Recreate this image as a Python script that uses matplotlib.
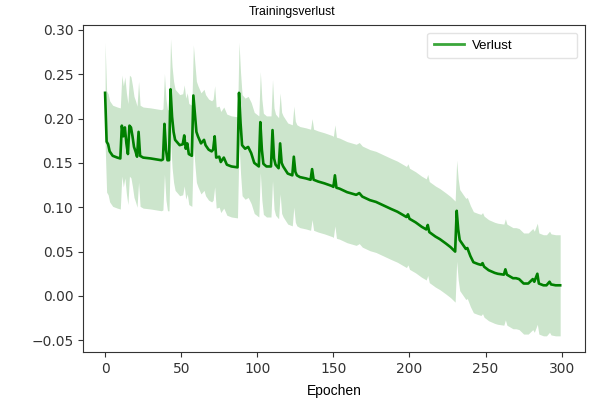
import matplotlib
matplotlib.use("Agg")
import numpy as np
import matplotlib.pyplot as plt
from matplotlib.lines import Line2D

# Values (mean training loss per epoch)
epochs = [
    0, 1, 2, 3, 5, 8, 10, 11, 12, 13, 14, 15, 16, 17, 18, 19, 20, 21, 22, 23,
    25, 30, 37, 38, 39, 40, 41, 42, 43, 44, 45, 46, 47, 49, 51, 52, 53, 54, 55, 57,
    58, 59, 60, 61, 63, 65, 66, 68, 70, 71, 72, 73, 75, 76, 78, 80, 83, 87, 88, 89,
    90, 92, 94, 96, 98, 101, 102, 103, 104, 106, 109, 110, 111, 112, 114, 115, 116, 117, 120, 123,
    124, 125, 126, 128, 132, 135, 136, 137, 140, 144, 149, 150, 151, 152, 154, 159, 165, 167, 169, 174,
    178, 183, 188, 192, 196, 198, 199, 200, 204, 208, 211, 212, 213, 217, 220, 224, 227, 230, 231, 232,
    233, 235, 237, 238, 240, 242, 245, 247, 248, 249, 252, 256, 258, 262, 263, 264, 266, 268, 270, 272,
    275, 278, 281, 282, 284, 285, 288, 290, 292, 293, 296, 299,
]
loss_mean = [
    0.229, 0.174, 0.171, 0.163, 0.158, 0.156, 0.155, 0.192, 0.180, 0.190, 0.172, 0.160, 0.192, 0.190, 0.180, 0.168, 0.163, 0.157, 0.185, 0.158,
    0.156, 0.155, 0.153, 0.154, 0.194, 0.165, 0.153, 0.153, 0.233, 0.202, 0.185, 0.176, 0.174, 0.170, 0.171, 0.181, 0.166, 0.172, 0.160, 0.158,
    0.226, 0.205, 0.185, 0.180, 0.172, 0.176, 0.170, 0.165, 0.163, 0.165, 0.180, 0.156, 0.157, 0.151, 0.156, 0.148, 0.146, 0.145, 0.229, 0.195,
    0.170, 0.166, 0.168, 0.161, 0.150, 0.146, 0.196, 0.165, 0.149, 0.146, 0.146, 0.187, 0.155, 0.148, 0.144, 0.172, 0.150, 0.146, 0.138, 0.136,
    0.157, 0.140, 0.136, 0.134, 0.1325, 0.131, 0.143, 0.131, 0.129, 0.127, 0.124, 0.123, 0.136, 0.122, 0.121, 0.117, 0.114, 0.116, 0.112, 0.108,
    0.106, 0.102, 0.098, 0.095, 0.091, 0.089, 0.092, 0.087, 0.083, 0.078, 0.075, 0.080, 0.072, 0.067, 0.064, 0.059, 0.055, 0.050, 0.096, 0.075,
    0.063, 0.058, 0.053, 0.054, 0.045, 0.038, 0.036, 0.035, 0.037, 0.033, 0.029, 0.026, 0.025, 0.024, 0.030, 0.024, 0.022, 0.020, 0.020, 0.019,
    0.014, 0.014, 0.019, 0.016, 0.025, 0.014, 0.012, 0.012, 0.016, 0.013, 0.012, 0.012,
]
loss_std = 0.057  # band half-width, read from the shaded area

title = "Trainingsverlust"
x_label = "Epochen"
legend_label = "Verlust"
y_ticks = [-0.05, 0.00, 0.05, 0.10, 0.15, 0.20, 0.25, 0.30]
x_ticks = [0, 50, 100, 150, 200, 250, 300]


def main():
    x = np.array(epochs)
    y = np.array(loss_mean)

    fig = plt.figure(figsize=(5.93, 4.03), dpi=100)
    ax = fig.add_axes([0.140, 0.127, 0.847, 0.811])

    ax.fill_between(x, y - loss_std, y + loss_std, color="green", alpha=0.2, linewidth=0)
    ax.plot(x, y, color="green", linewidth=1.9)

    ax.set_ylim(-0.063, 0.3055)
    ax.set_xlim(-14.5, 315.5)
    ax.set_yticks(y_ticks)
    ax.set_xticks(x_ticks)
    ax.tick_params(labelsize=10, colors="#333333")
    ax.set_yticklabels([f"{t:.2f}".replace("-", "\u2212") for t in y_ticks])
    for spine in ax.spines.values():
        spine.set_color("#333333")

    # title sits centred on the figure, not on the axes
    fig.text(0.493, 0.970, title, fontsize=8.8, family="Liberation Sans",
             ha="center", va="center")
    ax.set_xlabel(x_label, fontsize=10, family="Liberation Sans", labelpad=6)

    handle = Line2D([0], [0], color="#3aa63a", linewidth=2)
    ax.legend([handle], [legend_label], loc="upper left",
              bbox_to_anchor=(0.685, 0.899, 0.299, 0.077), mode="expand",
              prop={"family": "Liberation Sans", "size": 9.5},
              handlelength=2.3, handletextpad=0.6, borderpad=0.5, borderaxespad=0,
              framealpha=0.8, edgecolor="#dddddd")

    fig.savefig("out.png", dpi=100)
    plt.close(fig)


if __name__ == "__main__":
    main()
